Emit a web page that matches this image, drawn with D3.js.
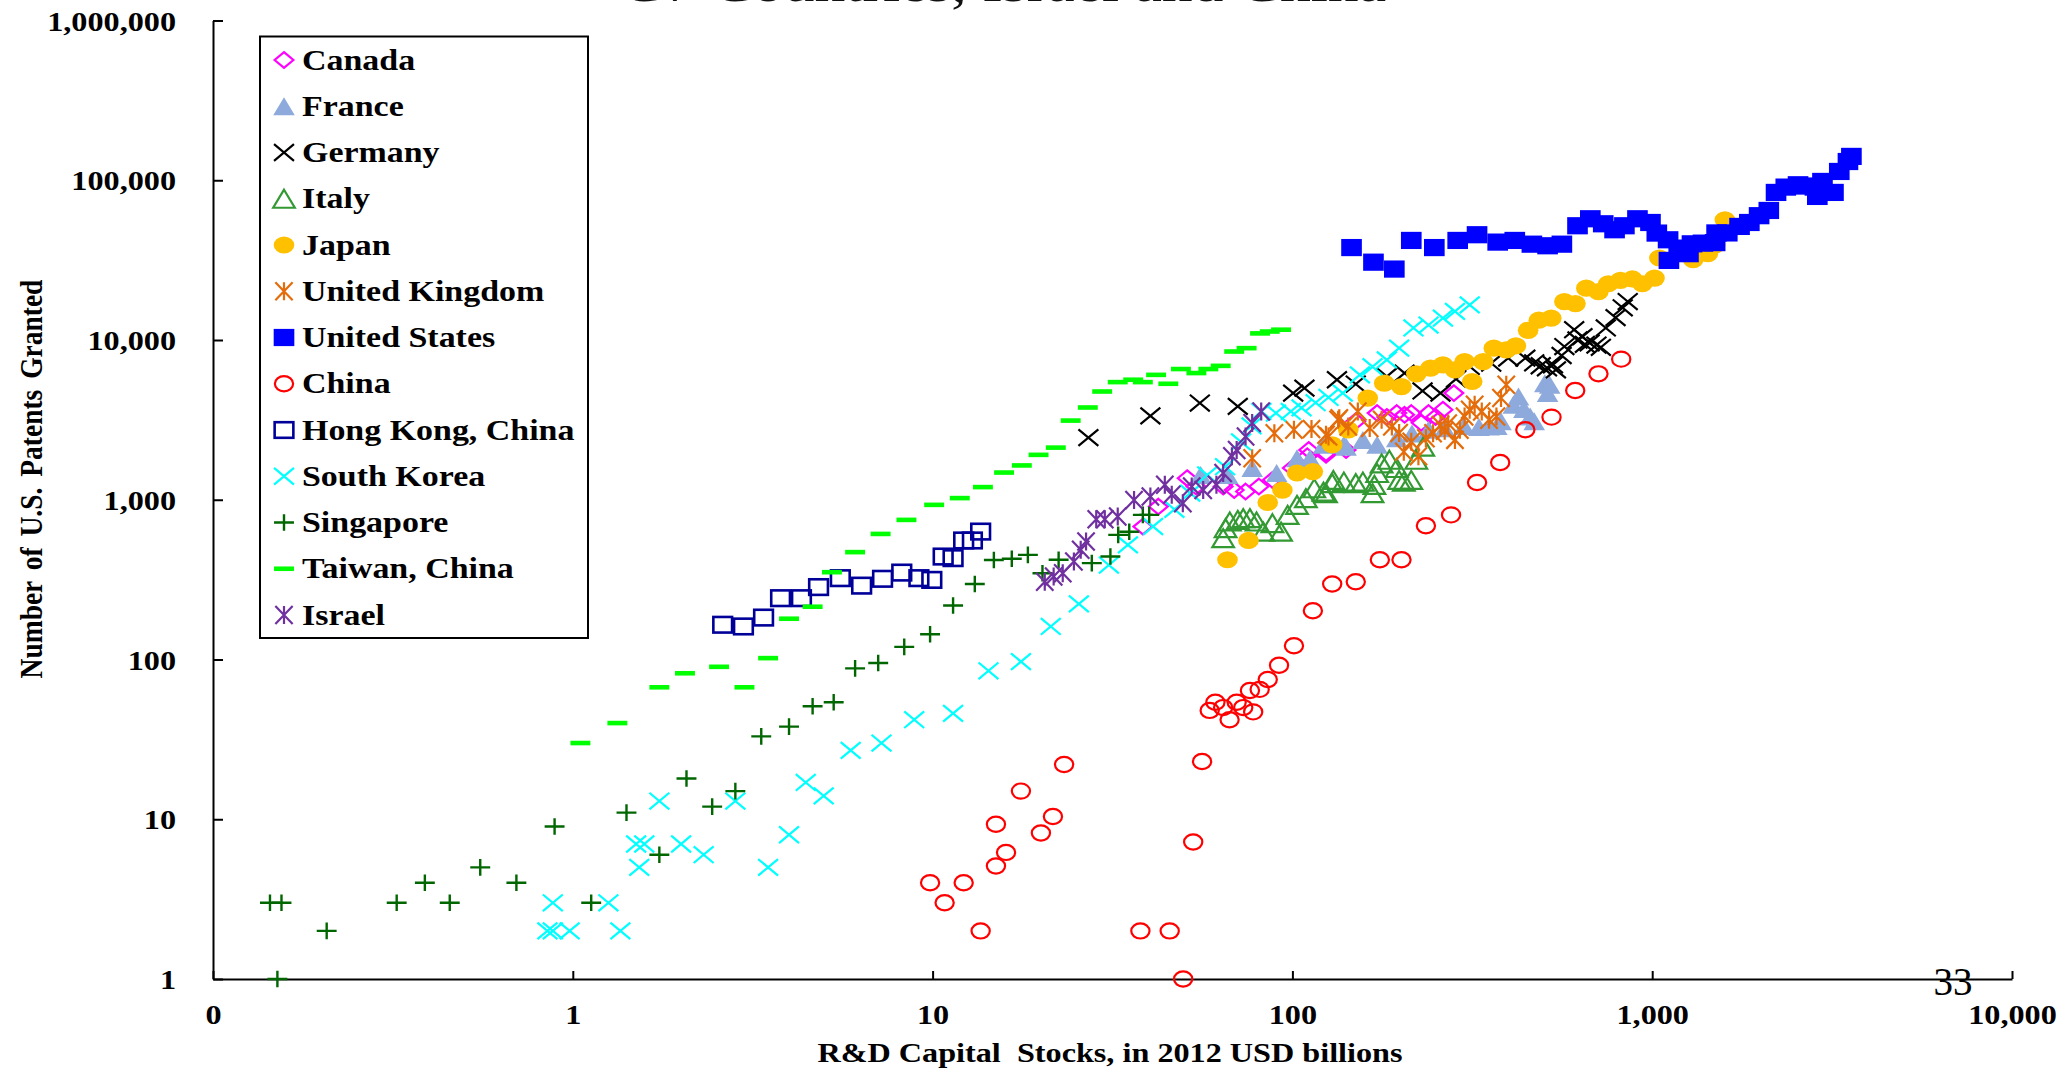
<!DOCTYPE html>
<html><head><meta charset="utf-8">
<script src="https://cdn.jsdelivr.net/npm/d3@7"></script>
<style>
html,body{margin:0;padding:0;background:#fff;overflow:hidden}
svg{display:block}
</style></head><body>
<svg id="chart" width="2063" height="1068"></svg>
<script>
// ---------------- DATA (R&D capital stock in 2012 USD bn, US patents granted) ----------------
const seriesNames = ["Canada","France","Germany","Italy","Japan","United Kingdom","United States","China","Hong Kong, China","South Korea","Singapore","Taiwan, China","Israel"];

const canada = [[38.4,679],[42.4,906],[51,1365],[54,1210],[64.2,1210],[68.9,1150],[74.1,1125],[80.7,1210],[88,1330],[100,1580],[110,1870],[124,1960],[111,2050],[124,1910],[141,2050],[150,3100],[172,3490],[183,3300],[195,3490],[205,3400],[214,3490],[228,3030],[239,3490],[250,3300],[262,3660],[281,4650]];
const france = [[55.6,1430],[66.1,1430],[77.3,1580],[90.4,1470],[103,1820],[112,1820],[122,2210],[139,2210],[141,2150],[157,2370],[172,2210],[195,2430],[215,2600],[239,2740],[265,2800],[300,2900],[330,2850],[352,2870],[370,2900],[380,3100],[411,3930],[425,4430],[440,3700],[458,3320],[470,3100],[503,5370],[512,4650],[519,5240]];
const germany = [[27.1,2450],[40.3,3350],[55.3,4030],[70.5,3840],[100.5,4650],[108,5000],[133,5640],[150,5300],[183,5910],[205,6200],[230,4800],[258,4650],[285,5700],[311,6830],[357,7160],[398,7700],[444,7700],[470,7200],[490,6900],[510,6700],[530,7000],[540,6500],[560,8000],[570,9100],[607,11600],[620,10000],[640,10500],[650,9400],[670,9600],[700,9300],[720,9000],[743,11900],[791,13800],[828,15900],[855,17400]];
const italy = [[64.2,575],[65.2,664],[67,731],[70.5,748],[73,767],[76.2,767],[79.5,731],[83,632],[88,713],[93,632],[97,804],[103,929],[109,1024],[115,1180],[122,1125],[124,1100],[129,1270],[130,1330],[139,1300],[150,1270],[157,1300],[167,1100],[169,1240],[172,1470],[177,1690],[186,1780],[195,1580],[198,1330],[204,1300],[214,1330],[221,1780],[231,2150]];
const japan = [[66,421],[75.5,556],[85.4,961],[93.8,1150],[103,1470],[114,1500],[129,2210],[143,2740],[162,4330],[180,5370],[201,5110],[221,6140],[242,6660],[262,6990],[283,6500],[301,7330],[316,5500],[339,7330],[363,8890],[393,8680],[418,9200],[452,11500],[484,13300],[524,13700],[570,17400],[612,16900],[656,21100],[709,20100],[755,22500],[816,23600],[881,24100],[939,22500],[1015,24400],[1047,32600],[1300,31800],[1428,34700],[1496,39400],[1520,46700],[1592,56600]];
const unitedKingdom = [[77.3,1820],[89.1,2610],[101,2740],[113,2770],[124,2550],[126,2490],[134,3170],[135,3240],[143,2870],[152,3570],[164,2810],[177,3170],[189,2870],[198,2620],[204,2000],[214,2310],[224,1870],[235,2430],[246,2610],[258,2940],[265,2700],[271,3000],[283,2370],[292,2740],[301,3320],[311,3660],[321,3930],[336,3570],[352,3170],[369,3320],[380,4330],[393,5240]];
const unitedStates = [[146,37900],[168,30700],[192,27800],[214,42000],[248,37900],[288,42000],[326,45600],[372,41000],[415,42000],[463,39800],[512,38900],[561,39800],[620,51900],[673,57400],[731,53400],[786,49000],[837,51900],[910,57400],[989,54400],[1030,46700],[1107,42400],[1113,31500],[1185,37600],[1261,34700],[1290,40000],[1384,40400],[1496,40700],[1510,46800],[1617,46800],[1749,51400],[1862,54400],[1982,60000],[2109,64700],[2209,83900],[2351,90600],[2543,93700],[2660,92000],[2833,90600],[2877,79200],[2973,98300],[3190,83900],[3311,113500],[3500,131000],[3578,141000]];
const china = [[9.84,4],[10.8,3],[12.2,4],[13.6,2],[15.0,9.3],[15.0,5.1],[16.0,6.2],[17.6,15],[20.0,8.2],[21.6,10.4],[23.2,22],[37.8,2],[45.6,2],[49.7,1],[53,7.2],[56.1,23],[58.9,48],[61.1,54],[64.2,50],[66.9,42],[70,54],[73,50],[76.2,64],[77.8,47],[81.1,65],[85.4,75],[91.8,92],[101,122],[114,202],[129,297],[150,307],[175,421],[201,421],[235,687],[276,804],[326,1282],[378,1710],[444,2740],[525,3290],[611,4830],[709,6140],[820,7590]];
const hongKong = [[2.61,165],[2.98,161],[3.39,183],[3.78,242],[4.32,242],[4.82,284],[5.54,323],[6.35,290],[7.26,320],[8.21,350],[9.16,323],[9.95,315],[10.7,441],[11.4,431],[12.2,556],[12.9,556],[13.6,632]];
const southKorea = [[0.85,2],[0.88,2],[0.88,3],[0.98,2],[1.256,3],[1.356,2],[1.50,7],[1.53,5],[1.58,7],[1.74,13],[2.0,7],[2.31,6],[2.83,13],[3.49,5],[3.99,8],[4.44,17],[4.98,14],[5.92,27],[7.21,30],[8.89,42],[11.4,46],[14.3,85],[17.6,97],[21.3,161],[25.5,223],[30.9,390],[34.9,522],[41,680],[47,870],[52,1100],[58,1430],[65,1610],[72,2300],[77,2900],[82,3570],[90,3490],[99,3570],[106,3760],[116,4050],[126,4370],[138,4650],[154,6050],[167,6800],[183,7510],[198,8890],[217,11900],[239,12400],[262,13700],[283,15100],[311,16600]];
const singapore = [[0.144,3],[0.155,3],[0.151,1],[0.207,2],[0.324,3],[0.388,4],[0.455,3],[0.553,5],[0.697,4],[0.89,9],[1.125,3],[1.41,11],[1.74,6],[2.07,18],[2.44,12],[2.83,15],[3.34,33],[3.99,38],[4.64,51],[5.31,54],[6.09,88],[7.06,95],[8.34,120],[9.84,144],[11.4,218],[13.1,297],[14.8,420],[16.6,427],[18.4,452],[20.2,347],[22.4,421],[27.7,401],[31.2,441],[32.8,603],[35.2,631],[38.4,804],[40,804]];
const taiwan = [[1.05,30],[1.33,40],[1.74,67],[2.05,82],[2.55,90],[3.0,67],[3.49,102],[3.99,180],[4.64,214],[5.25,352],[6.09,470],[7.17,611],[8.46,748],[10.1,929],[11.9,1024],[13.8,1200],[15.8,1480],[17.7,1640],[19.7,1910],[22,2120],[24.2,3130],[27,3780],[29.6,4760],[32.7,5450],[36.1,5640],[38.4,5450],[41.8,6050],[45.2,5320],[49,6580],[54.1,6210],[58.4,6580],[63.2,6890],[68.9,8470],[74.6,8890],[81.3,11000],[86.5,11300],[93,11600]];
const israel = [[20.5,307],[21.7,331],[23,347],[24.7,410],[25.8,486],[26.7,547],[28.5,756],[30.1,756],[32.7,785],[36.3,998],[40.3,1047],[44.2,1240],[46.2,1074],[49.6,952],[52.5,1210],[56.5,1150],[61.5,1240],[64.2,1470],[67.9,1870],[70,2050],[74.1,2490],[77.3,3020],[81.9,3570]];

const xTickValues = [0.1,1,10,100,1000,10000];
const xTickLabels = ["0","1","10","100","1,000","10,000"];
const yTickValues = [1,10,100,1000,10000,100000,1000000];
const yTickLabels = ["1","10","100","1,000","10,000","100,000","1,000,000"];

const titleText = "G7 Countries, Israel and China";
const xTitle = "R&D Capital  Stocks, in 2012 USD billions";
const yTitle = "Number of U.S. Patents Granted";
const pageNumber = "33";

// ---------------- STYLE ----------------
const seriesData = [canada,france,germany,italy,japan,unitedKingdom,unitedStates,china,hongKong,southKorea,singapore,taiwan,israel];
const markerStyles = [
  {shape:"diamond", color:"#FF00FF", h:7.8},
  {shape:"triFill", color:"#8EA9DB", h:9},
  {shape:"x",       color:"#000000", h:8.3},
  {shape:"triOpen", color:"#339933", h:9},
  {shape:"dot",     color:"#FFC000", h:8.6},
  {shape:"star",    color:"#E46C0A", h:9},
  {shape:"sqFill",  color:"#0000FF", h:8.6},
  {shape:"ring",    color:"#FF0000", h:7.6},
  {shape:"sqOpen",  color:"#000099", h:7.8},
  {shape:"x",       color:"#00FFFF", h:8.3},
  {shape:"plus",    color:"#006600", h:8.3},
  {shape:"dash",    color:"#00FF00", h:8.3},
  {shape:"star",    color:"#7030A0", h:9}
];
const SX = 1.2;   // horizontal stretch of the original picture
const TX = 1.15;  // text stretch
const FONT = '"Liberation Serif","Times New Roman",Times,serif';

const svg = d3.select("#chart");
const x = d3.scaleLog().domain([0.1,10000]).range([213,2012]);
const y = d3.scaleLog().domain([1,1e6]).range([979,20.5]);

function stretch(sel, f){
  sel.each(function(){
    const w = this.getComputedTextLength();
    if (w>0) d3.select(this).attr("textLength", w*f).attr("lengthAdjust","spacingAndGlyphs");
  });
}

function addMarker(g, m){
  const h = m.h, hx = h*SX;
  const c = m.color;
  switch(m.shape){
    case "diamond":
      g.append("path").attr("d",`M0,${-h}L${hx},0L0,${h}L${-hx},0Z`).attr("fill","none").attr("stroke",c).attr("stroke-width",2.2); break;
    case "triFill":
      g.append("path").attr("d",`M0,${-h}L${hx},${h}L${-hx},${h}Z`).attr("fill",c); break;
    case "triOpen":
      g.append("path").attr("d",`M0,${-h}L${hx},${h}L${-hx},${h}Z`).attr("fill","none").attr("stroke",c).attr("stroke-width",2.2); break;
    case "x":
      g.append("path").attr("d",`M${-hx},${-h}L${hx},${h}M${-hx},${h}L${hx},${-h}`).attr("stroke",c).attr("stroke-width",2.2).attr("fill","none"); break;
    case "plus":
      g.append("path").attr("d",`M${-hx},0L${hx},0M0,${-h}L0,${h}`).attr("stroke",c).attr("stroke-width",2.4).attr("fill","none"); break;
    case "star":
      g.append("path").attr("d",`M${-hx*0.8},${-h}L${hx*0.8},${h}M${-hx*0.8},${h}L${hx*0.8},${-h}M0,${-h}L0,${h}`).attr("stroke",c).attr("stroke-width",2.2).attr("fill","none"); break;
    case "dot":
      g.append("ellipse").attr("rx",hx).attr("ry",h).attr("fill",c); break;
    case "ring":
      g.append("ellipse").attr("rx",hx).attr("ry",h).attr("fill","none").attr("stroke",c).attr("stroke-width",2.2); break;
    case "sqFill":
      g.append("rect").attr("x",-hx).attr("y",-h).attr("width",2*hx).attr("height",2*h).attr("fill",c); break;
    case "sqOpen":
      g.append("rect").attr("x",-hx).attr("y",-h).attr("width",2*hx).attr("height",2*h).attr("fill","none").attr("stroke",c).attr("stroke-width",2.6); break;
    case "dash":
      g.append("rect").attr("x",-hx).attr("y",-2.3).attr("width",2*hx).attr("height",4.6).attr("fill",c); break;
  }
}

// ---------------- TITLE (cropped at top, as in the source slide) ----------------
svg.append("text").attr("x",621).attr("y",1)
  .attr("font-family",FONT).attr("font-size",52).attr("fill","#111")
  .attr("textLength",765).attr("lengthAdjust","spacingAndGlyphs")
  .text(titleText);

// ---------------- AXES ----------------
const yAxis = d3.axisLeft(y).tickValues(yTickValues).tickFormat((d,i)=>yTickLabels[i])
  .tickSize(-10).tickSizeOuter(0).tickPadding(37);
const gy = svg.append("g").attr("transform","translate(213,0)").call(yAxis);

const xAxis = d3.axisBottom(x).tickValues(xTickValues).tickFormat((d,i)=>xTickLabels[i])
  .tickSize(-8).tickSizeOuter(0).tickPadding(25);
const gx = svg.append("g").attr("transform","translate(0,979)").call(xAxis);

[gx,gy].forEach(g=>{
  g.attr("font-family",FONT).attr("font-size",28).attr("font-weight","bold");
  g.select(".domain").attr("stroke","#000").attr("stroke-width",2);
  g.selectAll(".tick line").attr("stroke","#000").attr("stroke-width",2);
  g.selectAll(".tick text").attr("fill","#000");
});
gy.selectAll(".tick text").attr("dy","0.34em").call(stretch, TX);
gx.selectAll(".tick text").call(stretch, TX);

// axis titles
svg.append("text").attr("x",1110).attr("y",1062).attr("text-anchor","middle")
  .attr("font-family",FONT).attr("font-size",28).attr("font-weight","bold").attr("fill","#000")
  .attr("xml:space","preserve").style("white-space","pre")
  .text(xTitle).call(stretch, TX);
svg.append("text").attr("transform",`translate(42,479) scale(${TX},1) rotate(-90)`)
  .attr("text-anchor","middle").attr("font-family",FONT).attr("font-size",27.5)
  .attr("font-weight","bold").attr("word-spacing",4).attr("fill","#000")
  .text(yTitle);

// ---------------- POINTS ----------------
seriesData.forEach((data, si)=>{
  const m = markerStyles[si];
  const g = svg.append("g").attr("class","series s"+si);
  g.selectAll("g.pt").data(data).join("g").attr("class","pt")
    .attr("transform", d=>`translate(${x(d[0])},${y(d[1])})`)
    .each(function(){ addMarker(d3.select(this), m); });
});

// ---------------- LEGEND ----------------
const lg = svg.append("g");
lg.append("rect").attr("x",260).attr("y",36.5).attr("width",328).attr("height",601.5)
  .attr("fill","#fff").attr("stroke","#000").attr("stroke-width",2);
seriesNames.forEach((name,i)=>{
  const cy = 60 + i*46.25;
  const mg = lg.append("g").attr("transform",`translate(284,${cy})`);
  addMarker(mg, markerStyles[i]);
  lg.append("text").attr("x",302).attr("y",cy).attr("dy","0.33em")
    .attr("font-family",FONT).attr("font-size",29.5).attr("font-weight","bold").attr("fill","#000")
    .text(name).call(stretch, TX);
});

// page number
svg.append("text").attr("x",1953).attr("y",995).attr("text-anchor","middle")
  .attr("font-family",FONT).attr("font-size",39).attr("fill","#000").text(pageNumber);
</script>
</body></html>
